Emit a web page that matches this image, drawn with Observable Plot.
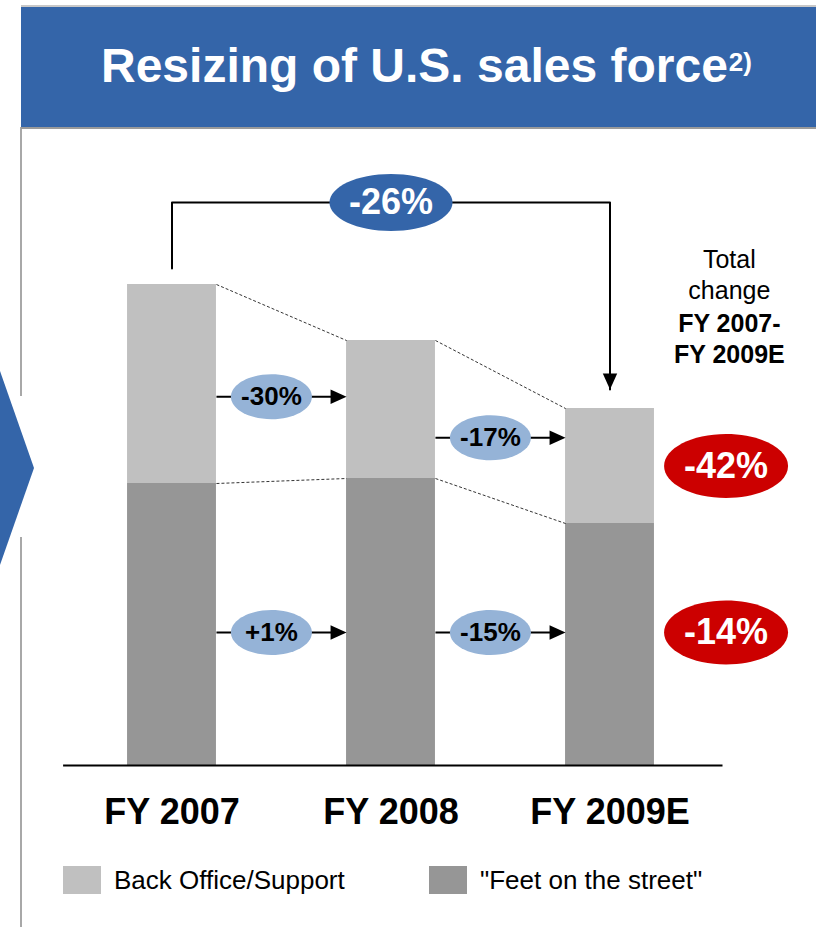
<!DOCTYPE html>
<html>
<head>
<meta charset="utf-8">
<script src="https://cdn.jsdelivr.net/npm/d3@7"></script>
<script src="https://cdn.jsdelivr.net/npm/@observablehq/plot@0.6"></script>
<style>
  html, body { margin: 0; padding: 0; background: #fff; }
  #page { position: relative; width: 816px; height: 927px; overflow: hidden;
          font-family: "Liberation Sans", Arial, Helvetica, sans-serif; }
  #header { position: absolute; left: 21px; top: 5px; width: 795px; height: 120px;
            background: #3465a9; border-top: 2px solid #c8c8c8; border-bottom: 2px solid #9a9a9a;
            color: #fff; font-weight: bold; font-size: 48px; }
  #header .t { position: absolute; left: 80px; top: 31px; white-space: nowrap; line-height: 55px; }
  #header sup { font-size: 26px; position: relative; top: -11px; vertical-align: baseline; margin-left: 1px; }
  .vline { position: absolute; left: 20px; width: 2px; background: #a8a8a8; }
  #chev { position: absolute; left: 0; top: 371px; width: 34px; height: 194px; background: #3465a9;
          clip-path: polygon(0 0, 100% 50%, 0 100%); }
  #chart { position: absolute; left: 0; top: 127px; }
  .leg { position: absolute; top: 866px; height: 28px; display: flex; align-items: center; }
  .leg .sw { width: 38px; height: 28px; }
  .leg .lb { font-size: 26px; color: #000; margin-left: 13px; white-space: nowrap; }
</style>
</head>
<body>
<div id="page">
  <div class="vline" style="top:127px;height:269px"></div>
  <div class="vline" style="top:537px;height:390px"></div>
  <div id="chev"></div>
  <div id="header"><span class="t">Resizing of U.S. sales force<sup>2)</sup></span></div>
  <div id="chart"></div>
</div>
<script>
// ---- data (relative headcount index) ----
const years = ["FY 2007", "FY 2008", "FY 2009E"];
const backOffice = [199, 138, 115];
const feetOnStreet = [282, 287, 242];
const seriesNames = ["Back Office/Support", "\"Feet on the street\""];
const seriesColors = ["#c0c0c0", "#969696"];
const backOfficeSteps = ["-30%", "-17%"];
const feetSteps = ["+1%", "-15%"];
const totalChangeLabel = "-26%";
const segmentTotalLabels = ["-42%", "-14%"];
const totalTextRegular = "Total\nchange";
const totalTextBold = "FY 2007-\nFY 2009E";

// ---- layout constants ----
const barHalf = 0.203;
const ellOffset = 0.454;
const feetArrowLevel = 133;
const rightColX = 2.545;

const totals = years.map((_, i) => backOffice[i] + feetOnStreet[i]);
const backMid = i => feetOnStreet[i] + backOffice[i] / 2;

const rows = years.flatMap((yr, i) => [
  {i, series: seriesNames[1], y1: 0, y2: feetOnStreet[i]},
  {i, series: seriesNames[0], y1: feetOnStreet[i], y2: totals[i]}
]);

const topLinks = [0, 1].map(i => ({i, a: totals[i], b: totals[i + 1]}));
const splitLinks = [0, 1].map(i => ({i, a: feetOnStreet[i], b: feetOnStreet[i + 1]}));

const arrows = [
  ...backOfficeSteps.map((label, i) => ({i, y: (backMid(i) + backMid(i + 1)) / 2, label})),
  ...feetSteps.map((label, i) => ({i, y: feetArrowLevel, label}))
];

const bracketTop = Math.max(...totals) + 82;
const bracket = [
  {x: 0, y: totals[0] + 16},
  {x: 0, y: bracketTop},
  {x: 2, y: bracketTop},
  {x: 2, y: totals[2] + 19}
];

const redLabels = [
  {label: segmentTotalLabels[0], y: backMid(2)},
  {label: segmentTotalLabels[1], y: feetArrowLevel}
];

// ---- custom symbols ----
const ellipse = (rx, ry) => ({
  draw(ctx) {
    const k = 0.5523;
    ctx.moveTo(rx, 0);
    ctx.bezierCurveTo(rx, ry * k, rx * k, ry, 0, ry);
    ctx.bezierCurveTo(-rx * k, ry, -rx, ry * k, -rx, 0);
    ctx.bezierCurveTo(-rx, -ry * k, -rx * k, -ry, 0, -ry);
    ctx.bezierCurveTo(rx * k, -ry, rx, -ry * k, rx, 0);
    ctx.closePath();
  }
});
const triRight = {
  draw(ctx, size) {
    const r = Math.sqrt(size / Math.PI);
    ctx.moveTo(0, 0); ctx.lineTo(-2 * r, -0.9 * r); ctx.lineTo(-2 * r, 0.9 * r); ctx.closePath();
  }
};
const triDown = {
  draw(ctx, size) {
    const r = Math.sqrt(size / Math.PI);
    ctx.moveTo(0, 0); ctx.lineTo(-0.9 * r, -2 * r); ctx.lineTo(0.9 * r, -2 * r); ctx.closePath();
  }
};

const bold = "bold";
const chart = Plot.plot({
  width: 816,
  height: 720,
  marginLeft: 171.5,
  marginRight: 206.5,
  marginTop: 38,
  marginBottom: 82,
  style: {fontFamily: "'Liberation Sans', Arial, Helvetica, sans-serif", overflow: "visible", background: "transparent"},
  x: {type: "linear", domain: [0, 2]},
  y: {domain: [0, 600], axis: null},
  color: {domain: seriesNames, range: seriesColors},
  marks: [
    Plot.rect(rows, {x1: d => d.i - barHalf, x2: d => d.i + barHalf, y1: "y1", y2: "y2", fill: "series"}),
    Plot.ruleY([0], {x1: -0.495, x2: 2.516, stroke: "#000", strokeWidth: 2}),
    Plot.link(topLinks, {x1: d => d.i + barHalf, x2: d => d.i + 1 - barHalf, y1: "a", y2: "b",
      stroke: "#000", strokeWidth: 0.8, strokeDasharray: "3,2"}),
    Plot.link(splitLinks, {x1: d => d.i + barHalf, x2: d => d.i + 1 - barHalf, y1: "a", y2: "b",
      stroke: "#000", strokeWidth: 0.8, strokeDasharray: "3,2"}),
    // step arrows
    Plot.link(arrows, {x1: d => d.i + barHalf, x2: d => d.i + 1 - barHalf - 0.03, y1: "y", y2: "y",
      stroke: "#000", strokeWidth: 2}),
    Plot.dot(arrows, {x: d => d.i + 1 - barHalf, y: "y", r: 8, symbol: triRight, fill: "#000", stroke: "none"}),
    Plot.dot(arrows, {x: d => d.i + ellOffset, y: "y", symbol: ellipse(40.5, 22.5), fill: "#95b3d7", stroke: "none"}),
    Plot.text(arrows, {x: d => d.i + ellOffset, y: "y", text: "label", fontSize: 26, fontWeight: bold, fill: "#000"}),
    // total bracket
    Plot.line(bracket, {x: "x", y: "y", stroke: "#000", strokeWidth: 2, curve: "linear"}),
    Plot.dot([bracket[3]], {x: "x", y: "y", r: 8, symbol: triDown, fill: "#000", stroke: "none"}),
    Plot.dot([{x: 1, y: bracketTop}], {x: "x", y: "y", symbol: ellipse(61.5, 28.5), fill: "#3465a9", stroke: "none"}),
    Plot.text([{x: 1, y: bracketTop}], {x: "x", y: "y", text: () => totalChangeLabel, fontSize: 36, fontWeight: bold, fill: "#fff"}),
    // right column
    Plot.text([totalTextRegular], {x: rightColX, y: totals[2] + 135, text: d => d, fontSize: 25, lineHeight: 1.26, fill: "#000"}),
    Plot.text([totalTextBold], {x: rightColX, y: totals[2] + 71, text: d => d, fontSize: 25, fontWeight: bold, lineHeight: 1.26, fill: "#000"}),
    Plot.dot(redLabels, {x: rightColX - 0.015, y: "y", symbol: ellipse(62, 32), fill: "#cc0000", stroke: "none"}),
    Plot.text(redLabels, {x: rightColX - 0.015, y: "y", text: "label", fontSize: 36, fontWeight: bold, fill: "#fff"}),
    // category axis
    Plot.axisX({ticks: [0, 1, 2], tickFormat: i => years[i], tickSize: 0, tickPadding: 33,
      fontSize: 36, fontWeight: bold, fill: "#000", anchor: "bottom", label: null})
  ]
});
document.getElementById("chart").appendChild(chart);

// legend built from the series arrays
const legendLeft = [63, 429];
const page = document.getElementById("page");
seriesNames.forEach((name, k) => {
  const item = document.createElement("div");
  item.className = "leg";
  item.style.left = legendLeft[k] + "px";
  const sw = document.createElement("div");
  sw.className = "sw";
  sw.style.background = seriesColors[k];
  const lb = document.createElement("span");
  lb.className = "lb";
  lb.textContent = name;
  item.appendChild(sw);
  item.appendChild(lb);
  page.appendChild(item);
});
</script>
</body>
</html>
